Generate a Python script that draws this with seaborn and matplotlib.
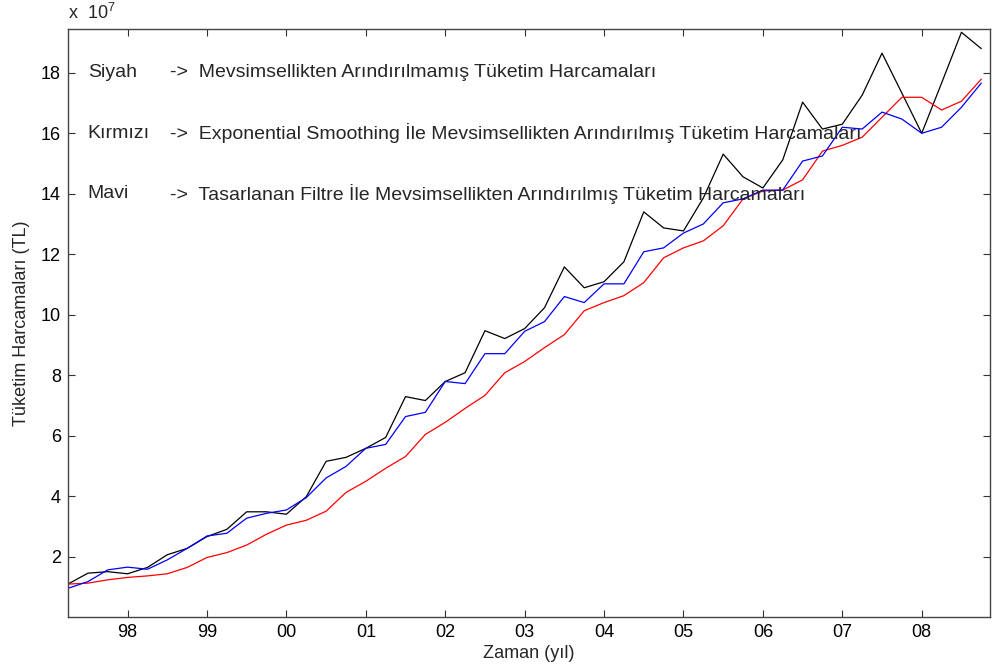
import numpy as np
import pandas as pd
import matplotlib
matplotlib.use("Agg")
import matplotlib.pyplot as plt
import seaborn as sns

# Quarterly consumption expenditure, 1997 Q2 - 2008 Q4, in units of 10^7 TL
start_year = 1997.25
siyah = [1.09, 1.45, 1.50, 1.43, 1.64, 2.06, 2.27, 2.66, 2.90, 3.48, 3.48, 3.40,
         3.98, 5.15, 5.28, 5.58, 5.94, 7.29, 7.16, 7.79, 8.08, 9.47, 9.21, 9.54,
         10.23, 11.58, 10.89, 11.09, 11.75, 13.40, 12.87, 12.77, 13.86, 15.31, 14.56, 14.19,
         15.12, 17.03, 16.14, 16.30, 17.26, 18.65, 17.33, 16.00, 17.66, 19.34, 18.80]
kirmizi = [1.09, 1.12, 1.23, 1.31, 1.36, 1.43, 1.64, 1.97, 2.13, 2.38, 2.74, 3.04,
           3.20, 3.50, 4.12, 4.49, 4.92, 5.31, 6.04, 6.44, 6.90, 7.33, 8.08, 8.45,
           8.91, 9.34, 10.13, 10.40, 10.63, 11.06, 11.88, 12.21, 12.44, 12.94, 13.83, 14.09,
           14.12, 14.46, 15.41, 15.60, 15.87, 16.53, 17.19, 17.19, 16.77, 17.06, 17.79]
mavi = [0.95, 1.17, 1.56, 1.65, 1.58, 1.89, 2.27, 2.68, 2.77, 3.27, 3.43, 3.54,
        3.95, 4.60, 4.98, 5.58, 5.71, 6.63, 6.77, 7.79, 7.72, 8.71, 8.71, 9.45,
        9.77, 10.60, 10.40, 11.02, 11.02, 12.08, 12.21, 12.70, 13.00, 13.70, 13.83, 14.12,
        14.12, 15.08, 15.25, 16.20, 16.14, 16.70, 16.47, 16.00, 16.20, 16.86, 17.66]
year_ticks = list(range(1998, 2009))
year_labels = ["98", "99", "00", "01", "02", "03", "04", "05", "06", "07", "08"]
y_ticks = [2, 4, 6, 8, 10, 12, 14, 16, 18]

legend_lines = [
    ("Siyah", "->  Mevsimsellikten Arındırılmamış Tüketim Harcamaları", 18),
    ("Kırmızı", "->  Exponential Smoothing İle Mevsimsellikten Arındırılmış Tüketim Harcamaları", 16),
    ("Mavi", "->  Tasarlanan Filtre İle Mevsimsellikten Arındırılmış Tüketim Harcamaları", 14),
]

quarters = start_year + 0.25 * np.arange(len(siyah))
df = pd.DataFrame({"t": quarters, "siyah": siyah, "kirmizi": kirmizi, "mavi": mavi})

sns.set_style("ticks")
plt.rcParams["font.family"] = ["Liberation Sans", "DejaVu Sans"]
plt.rcParams["mathtext.default"] = "regular"

fig = plt.figure(figsize=(9.93, 6.69), dpi=100)
ax = fig.add_axes([0.0685, 0.0777, 0.9285, 0.879])

sns.lineplot(data=df, x="t", y="siyah", color="black", linewidth=0.9, ax=ax)
sns.lineplot(data=df, x="t", y="kirmizi", color="#ff0000", linewidth=0.9, ax=ax)
sns.lineplot(data=df, x="t", y="mavi", color="#0000ff", linewidth=0.9, ax=ax)

ax.set_xlim(quarters[0], quarters[-1] + 0.11)
ax.set_ylim(0, 19.45)
ax.set_xticks(year_ticks)
ax.set_xticklabels(year_labels)
ax.set_yticks(y_ticks)
ax.set_yticklabels([str(v) for v in y_ticks])

ax.tick_params(direction="in", top=True, right=True, length=5, width=0.8,
               labelsize=13, colors="#333333", labelcolor="black", pad=5)
for side in ["left", "right", "top", "bottom"]:
    ax.spines[side].set_visible(True)
    ax.spines[side].set_color("#444444")
    ax.spines[side].set_linewidth(1.0)

ax.set_xlabel("Zaman (yıl)", fontsize=13, labelpad=3)
ax.set_ylabel("Tüketim Harcamaları (TL)", fontsize=13, labelpad=8)

ax.text(0.0, 1.01, "x  10$^{7}$", transform=ax.transAxes, fontsize=13,
        ha="left", va="bottom")

for name, desc, yv in legend_lines:
    ax.text(1997.5, yv, name, fontsize=14, ha="left", va="center")
    ax.text(1998.54, yv, desc, fontsize=14, ha="left", va="center")

fig.savefig("out.png", dpi=100)
